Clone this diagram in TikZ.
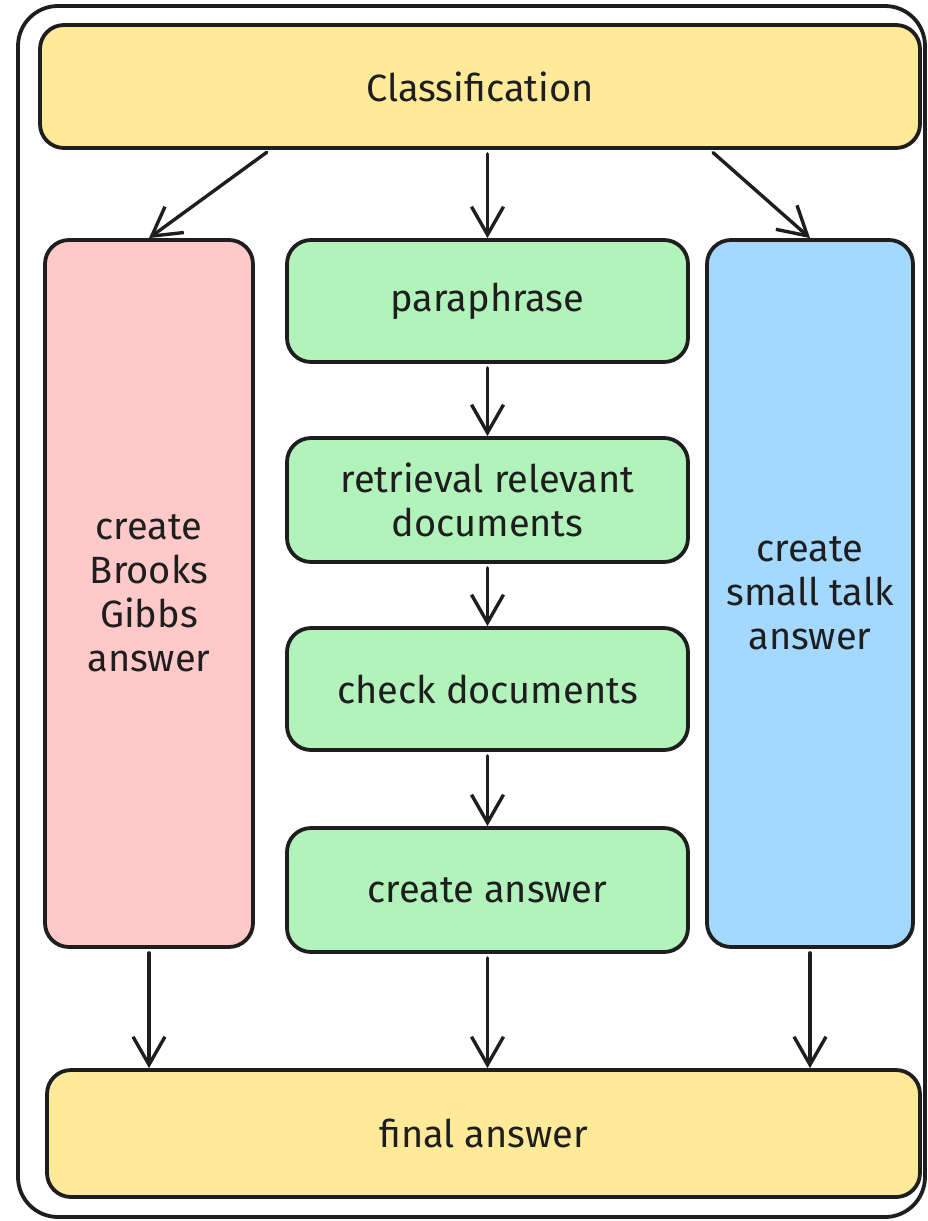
\documentclass[tikz,border=0pt]{standalone}
\usepackage{fontspec}
\setmainfont{Fira Sans}
\usetikzlibrary{arrows.meta}
\definecolor{cyellow}{HTML}{FFEA99}
\definecolor{cpink}{HTML}{FFC9C9}
\definecolor{cgreen}{HTML}{B2F2BB}
\definecolor{cblue}{HTML}{A5D8FF}
\definecolor{ink}{HTML}{1E1E1E}
\begin{document}
\begin{tikzpicture}[x=1pt,y=-1pt,
  box/.style={draw=ink,line width=3.8pt,rounded corners=24pt,inner sep=0pt,align=center,
    font=\fontsize{38}{44}\selectfont,text=ink},
  arr/.style={draw=ink,line width=3.4pt,line cap=round,shorten <=4pt,
    -{Straight Barb[length=28pt,width=32pt,line width=3.4pt]}}]
\useasboundingbox (0,0) rectangle (928,1221);
\draw[draw=ink,line width=3.8pt,rounded corners=40pt] (18,6) rectangle (925,1217);
\node[box,fill=cyellow,minimum width=880pt,minimum height=123pt] (cls) at (480,86.5) {Classification};
\node[box,fill=cpink,minimum width=208pt,minimum height=707pt] (pink) at (149,593.5) {create\\Brooks\\Gibbs\\answer};
\node[box,fill=cgreen,minimum width=401pt,minimum height=122pt] (para) at (487.5,301) {paraphrase};
\node[box,fill=cgreen,minimum width=401pt,minimum height=124pt] (ret) at (487.5,500) {retrieval relevant\\documents};
\node[box,fill=cgreen,minimum width=401pt,minimum height=122pt] (chk) at (487.5,689) {check documents};
\node[box,fill=cgreen,minimum width=401pt,minimum height=124pt] (ans) at (487.5,890) {create answer};
\node[box,fill=cblue,minimum width=206pt,minimum height=707pt] (blue) at (810,593.5) {create\\small talk\\answer};
\node[box,fill=cyellow,minimum width=873pt,minimum height=127pt] (fin) at (483.5,1133.5) {final answer};
\coordinate (a1) at (270,0);
\coordinate (a3) at (710,0);
\draw[arr] (cls.south -| a1) -- (pink.north);
\draw[arr] (cls.south -| para.north) -- (para.north);
\draw[arr] (cls.south -| a3) -- (blue.north);
\draw[arr] (para.south) -- (ret.north);
\draw[arr] (ret.south) -- (chk.north);
\draw[arr] (chk.south) -- (ans.north);
\draw[arr] (pink.south) -- (fin.north -| pink.south);
\draw[arr] (ans.south) -- (fin.north -| ans.south);
\draw[arr] (blue.south) -- (fin.north -| blue.south);
\end{tikzpicture}
\end{document}
